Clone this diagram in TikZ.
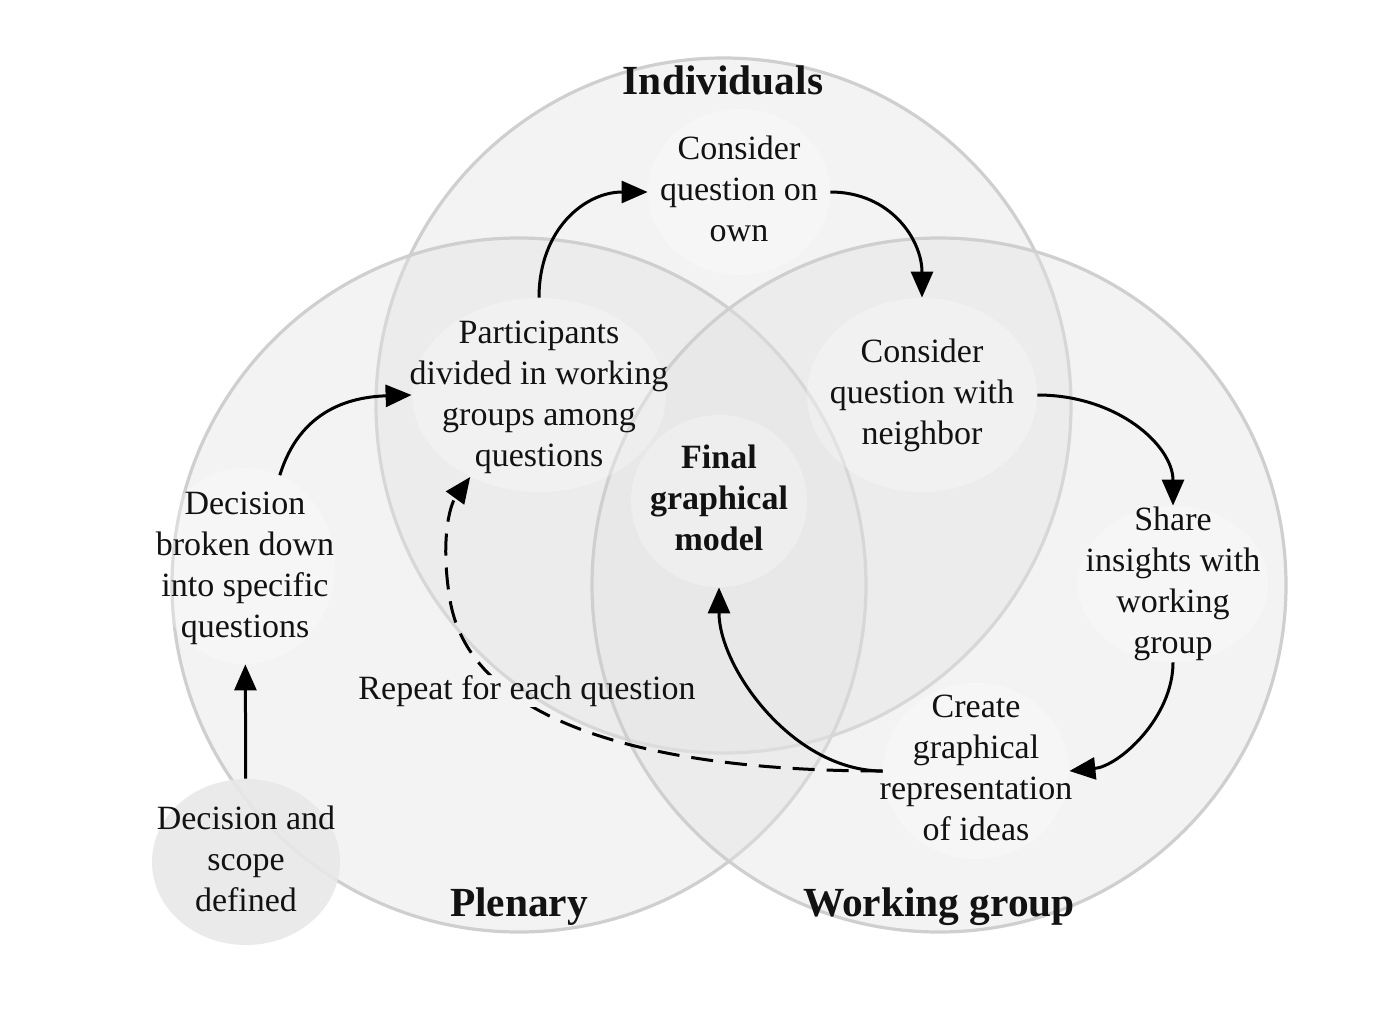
\documentclass[tikz,border=0pt]{standalone}
\usepackage{fontspec}
\setmainfont{Liberation Serif}
\usetikzlibrary{shapes.geometric,arrows.meta}
\begin{document}
\begin{tikzpicture}[x=0.5pt,y=-0.5pt,
  bigc/.style={draw=black!19, line width=1.6pt, fill=black!11, fill opacity=0.42},
  blob/.style={ellipse, draw=none, fill=white, fill opacity=0.28, inner sep=0pt},
  txt/.style={align=center, inner sep=0pt, text=black!93, font=\fontsize{17}{20.5}\selectfont},
  ttl/.style={anchor=base, inner sep=0pt, text=black!93, font=\fontsize{20.7}{25}\selectfont\bfseries},
  flow/.style={line width=1.5pt, -{Triangle[length=13pt,width=11pt]}},
  rep/.style={flow, dash pattern=on 11pt off 6pt}
]
\useasboundingbox (0,0) rectangle (1380,1017);
\fill[white] (0,0) rectangle (1380,1017);

% big circles
\draw[bigc] (723.5,405.5) circle[radius=173.75pt];
\draw[bigc] (519,585) circle[radius=173.5pt];
\draw[bigc] (939,585) circle[radius=173.5pt];

% small ellipses
\node[ellipse, fill=black!9, fill opacity=0.9, inner sep=0pt, minimum width=94pt, minimum height=83pt] (scope) at (246,862) {};
\node[blob, minimum width=90pt, minimum height=98pt] (dbroken) at (245,566) {};
\node[blob, minimum width=127pt, minimum height=97pt] (part) at (539,395) {};
\node[blob, minimum width=91pt, minimum height=83pt] (own) at (739,192) {};
\node[blob, minimum width=115pt, minimum height=97pt] (neigh) at (922,395) {};
\node[blob, minimum width=88pt, minimum height=86pt] (final) at (719,501) {};
\node[blob, minimum width=95pt, minimum height=78pt] (share) at (1173,584) {};
\node[blob, minimum width=93pt, minimum height=88pt] (create) at (976,771) {};

% texts
\node[txt] (scopet) at (246,859) {Decision and\\scope\\defined};
\node[txt] (dbrokent) at (245,568) {Decision\\broken down\\into specific\\questions};
\node[txt] (partt) at (539,397) {Participants\\divided in working\\groups among\\questions};
\node[txt] (ownt) at (739,189) {Consider\\question on\\own};
\node[txt] (neight) at (922,395) {Consider\\question with\\neighbor};
\node[txt, font=\fontsize{17}{20.5}\selectfont\bfseries] (finalt) at (719,498) {Final\\graphical\\model};
\node[txt] (sharet) at (1173,584) {Share\\insights with\\working\\group};
\node[txt] (createt) at (976,768) {Create\\graphical\\representation\\of ideas};
\node[txt] (repeat) at (527,691) {Repeat for each question};

\node[ttl] (tind) at (723,94) {Individuals};
\node[ttl] (tplen) at (519,916) {Plenary};
\node[ttl] (twork) at (939,916) {Working group};

% connectors
\draw[flow] (scope) -- (dbroken);
\draw[flow] (dbroken.69) .. controls +(20,-65) and +(-62,2) .. (part.west);
\draw[flow] (part.north) .. controls +(0,-68) and +(-63,0) .. (own.west);
\draw[flow] (own.east) .. controls +(60,0) and +(0,-58) .. (neigh.north);
\draw[flow] (neigh.east) .. controls +(80,0) and +(0,-60) .. (share.north);
\draw[flow] (share.south) .. controls +(0,55) and +(50,-5) .. (create.east);
\draw[flow] (create.west) .. controls +(-90,0) and +(0,80) .. (final.south);
\coordinate (mid) at (450,600);
\begin{scope}
  \clip (0,0) rectangle (1380,1017) (repeat.north east) rectangle (repeat.south west);
  \draw[rep] (create.west) .. controls +(-240,0) and (470,720) .. (mid) .. controls (440,540) and (450,505) .. (part.230);
\end{scope}
\end{tikzpicture}
\end{document}
